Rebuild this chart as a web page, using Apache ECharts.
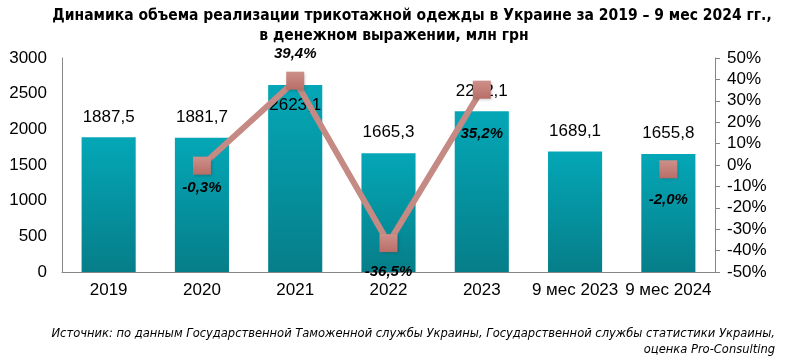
<!DOCTYPE html>
<html><head><meta charset="utf-8">
<script src="https://cdn.jsdelivr.net/npm/echarts@6/dist/echarts.min.js"></script>
<style>html,body{margin:0;padding:0;background:#fff}#c{width:786px;height:358px}</style>
</head><body><div id="c"></div>
<script>
const categories = ['2019','2020','2021','2022','2023','9 мес 2023','9 мес 2024'];
const salesValues = [1887.5, 1881.7, 2623.1, 1665.3, 2252.1, 1689.1, 1655.8];
const growthValues = [null, -0.3, 39.4, -36.5, 35.2, null, -2.0];
const leftTicks = [0, 500, 1000, 1500, 2000, 2500, 3000];
const rightTicks = [-50, -40, -30, -20, -10, 0, 10, 20, 30, 40, 50];

const NARROW = '"DejaVu Sans Condensed", "Liberation Sans", sans-serif';
const fmt = v => String(v.toFixed(1)).replace('.', ',');
const chart = echarts.init(document.getElementById('c'), null, {renderer: 'canvas'});

const barData = salesValues.map((v, i) => {
  const d = {value: v};
  if (i === 2) d.label = {position: 'insideTop', distance: 12};
  return d;
});
const growthLabelCfg = {
  1: {position: 'bottom', distance: 6},
  2: {position: 'top', distance: 10},
  3: {position: 'bottom', distance: 12},
  4: {position: 'bottom', distance: 28},
  6: {position: 'bottom', distance: 14}
};
const lineData = growthValues.map((v, i) => {
  const d = {value: v};
  if (growthLabelCfg[i]) d.label = growthLabelCfg[i];
  return d;
});

chart.setOption({
  animation: false,
  title: [
    {text: 'Динамика объема реализации трикотажной одежды в Украине за 2019 – 9 мес 2024 гг.,', left: 407, top: 3, textAlign: 'center',
     textStyle: {fontFamily: NARROW, fontWeight: 'bold', fontSize: 15.5, color: '#000'}},
    {text: 'в денежном выражении, млн грн', left: 389, top: 23, textAlign: 'center',
     textStyle: {fontFamily: NARROW, fontWeight: 'bold', fontSize: 15.5, color: '#000'}},
    {text: 'Источник: по данным Государственной Таможенной службы Украины, Государственной службы статистики Украины,', right: 6, top: 322,
     textStyle: {fontFamily: NARROW, fontStyle: 'italic', fontWeight: 'normal', fontSize: 12.8, color: '#000'}},
    {text: 'оценка Pro-Consulting', right: 6, top: 338,
     textStyle: {fontFamily: NARROW, fontStyle: 'italic', fontWeight: 'normal', fontSize: 12.8, color: '#000'}}
  ],
  grid: {left: 62, right: 71, top: 58, bottom: 86},
  xAxis: {
    type: 'category', data: categories,
    axisLine: {lineStyle: {color: '#868686', width: 1}},
    axisTick: {show: false},
    axisLabel: {fontFamily: 'Liberation Sans', fontSize: 17, color: '#000', margin: 10, interval: 0}
  },
  yAxis: [
    {type: 'value', min: 0, max: 3000, interval: 500,
     axisLine: {show: true, lineStyle: {color: '#868686'}},
     axisTick: {show: false}, splitLine: {show: false},
     axisLabel: {fontFamily: 'Liberation Sans', fontSize: 17, color: '#000', margin: 15, formatter: v => String(v)}},
    {type: 'value', min: -50, max: 50, interval: 10, position: 'right',
     axisLine: {show: true, lineStyle: {color: '#868686'}},
     axisTick: {show: true, length: 5, lineStyle: {color: '#868686'}}, splitLine: {show: false},
     axisLabel: {fontFamily: 'Liberation Sans', fontSize: 17, color: '#000', margin: 12, formatter: v => v + '%'}}
  ],
  series: [
    {type: 'bar', yAxisIndex: 0, data: barData, barCategoryGap: '42%',
     itemStyle: {color: new echarts.graphic.LinearGradient(0, 0, 0, 1, [
       {offset: 0, color: '#04A7B7'}, {offset: 1, color: '#067E89'}])},
     label: {show: true, position: 'top', distance: 12, color: '#000', fontFamily: 'Liberation Sans', fontSize: 17,
       formatter: p => fmt(p.value)},
     z: 1},
    {type: 'line', yAxisIndex: 1, data: lineData, connectNulls: false,
     lineStyle: {color: '#C48A83', width: 6},
     symbol: 'rect', symbolSize: 18,
     itemStyle: {color: new echarts.graphic.LinearGradient(0, 0, 0, 1, [
       {offset: 0, color: '#CE908A'}, {offset: 1, color: '#B86E67'}]), borderWidth: 0,
       shadowColor: 'rgba(0,0,0,0.25)', shadowBlur: 3, shadowOffsetX: 1, shadowOffsetY: 1},
     label: {show: true, color: '#000', fontFamily: 'Liberation Sans', fontSize: 15, fontWeight: 'bold', fontStyle: 'italic',
       formatter: p => fmt(p.value) + '%'},
     z: 3}
  ]
});
</script></body></html>
